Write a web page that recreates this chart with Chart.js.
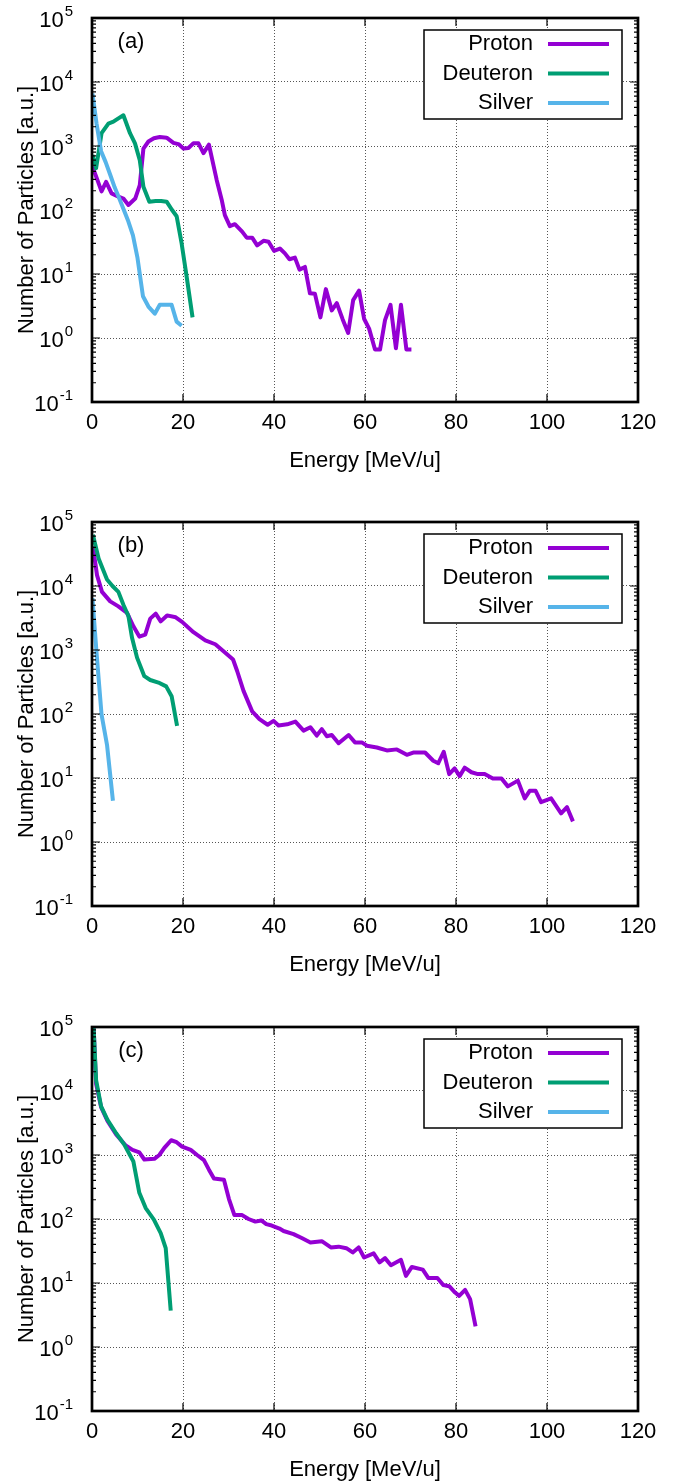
<!DOCTYPE html>
<html>
<head>
<meta charset="utf-8">
<script src="https://cdn.jsdelivr.net/npm/chart.js@4.4.1/dist/chart.umd.min.js"></script>
<style>
  html, body { margin: 0; padding: 0; background: #fff; }
  body { width: 677px; height: 1483px; overflow: hidden; position: relative; }
  canvas { position: absolute; left: 0; }
</style>
</head>
<body>
<canvas id="panelA" width="677" height="494" style="top:0px"></canvas>
<canvas id="panelB" width="677" height="494" style="top:504px"></canvas>
<canvas id="panelC" width="677" height="494" style="top:1009px"></canvas>
<script>
const FONT = '"Liberation Sans", Arial, Helvetica, sans-serif';

const names = ['Proton', 'Deuteron', 'Silver'];
const colors = ['#9400d3', '#009e73', '#56b4e9'];
const xTicks = [0, 20, 40, 60, 80, 100, 120];
const yTicks = [0.1, 1, 10, 100, 1000, 10000, 100000];
const yExponents = [-1, 0, 1, 2, 3, 4, 5];

// (a)
const protonA_E = [0.1, 2.1, 3.1, 4.3, 5.8, 6.9, 8.0, 9.5, 10.5, 11.3, 12.4, 13.6, 14.9, 16.4, 17.9, 19.0, 20.1, 21.2, 22.3, 23.4, 24.5, 25.7, 27.4, 28.5, 29.2, 30.3, 31.4, 33.0, 34.0, 35.2, 36.3, 37.7, 38.8, 40.0, 41.3, 42.4, 43.4, 44.6, 45.6, 46.8, 47.9, 49.0, 50.2, 51.4, 52.7, 53.8, 55.1, 56.3, 57.4, 58.7, 59.8, 60.9, 62.2, 63.3, 64.4, 65.6, 66.8, 67.9, 69.1, 70.2];
const protonA_N = [480, 195, 275, 182, 162, 151, 120, 151, 245, 912, 1175, 1320, 1380, 1350, 1120, 1070, 912, 933, 1100, 1100, 776, 1050, 295, 145, 83, 56, 60, 46, 37, 37, 28, 33, 32, 23, 25, 21, 17, 18, 11.7, 12.9, 5.0, 4.9, 2.1, 5.8, 2.7, 3.5, 1.95, 1.2, 3.9, 5.5, 2.0, 1.4, 0.66, 0.66, 1.9, 3.3, 0.69, 3.3, 0.66, 0.66];
const deuteronA_E = [0.1, 0.9, 2.1, 3.6, 4.7, 5.8, 6.9, 8.35, 9.45, 10.5, 11.3, 12.6, 14.0, 15.2, 16.4, 17.6, 18.6, 19.7, 20.8, 22.1];
const deuteronA_N = [725, 450, 1585, 2240, 2400, 2700, 3020, 1585, 1100, 600, 230, 135, 138, 138, 135, 100, 80, 30, 9.1, 2.1];
const silverA_E = [0.1, 1.0, 2.0, 3.0, 4.0, 5.0, 6.0, 7.0, 8.0, 9.0, 10.0, 11.2, 12.4, 13.8, 14.9, 16.2, 17.5, 18.6, 19.7];
const silverA_N = [6600, 2240, 830, 560, 355, 224, 151, 100, 66, 40, 17.8, 4.5, 3.1, 2.4, 3.3, 3.3, 3.3, 1.8, 1.55];

// (b)
const protonB_E = [0.2, 1.1, 2.2, 4.0, 5.8, 7.7, 9.1, 10.4, 11.7, 12.8, 14.0, 15.1, 16.5, 18.4, 19.8, 22.3, 24.9, 27.1, 29.1, 31.0, 31.9, 33.3, 35.2, 36.8, 38.6, 39.9, 41.0, 42.9, 44.7, 46.5, 48.0, 49.4, 50.5, 51.6, 52.7, 54.2, 56.4, 57.8, 59.3, 60.4, 62.6, 64.8, 67.0, 69.2, 70.6, 73.2, 75.0, 76.1, 77.3, 78.5, 79.7, 80.8, 81.9, 83.4, 84.8, 86.3, 88.1, 90.0, 91.4, 93.6, 95.1, 96.2, 97.5, 98.7, 100.9, 103.1, 104.4, 105.7];
const protonB_N = [41700, 14800, 8100, 5750, 4800, 3800, 2340, 1620, 1740, 3090, 3700, 2800, 3470, 3240, 2750, 1900, 1410, 1230, 930, 710, 470, 230, 110, 83, 68, 78, 66, 69, 76, 55, 62, 46, 58, 45, 47, 35, 47, 36, 36, 32, 30, 27, 28, 23, 25, 25, 18.6, 17, 25.7, 11.5, 14.1, 10.7, 14.5, 12.3, 11.5, 11.5, 9.8, 9.8, 7.4, 9.1, 4.8, 6.3, 6.3, 4.2, 4.8, 2.8, 3.5, 2.1];
const deuteronB_E = [0.2, 1.45, 3.3, 4.5, 5.8, 6.9, 8.0, 8.8, 9.9, 11.5, 12.8, 14.6, 16.3, 17.5, 18.7];
const deuteronB_N = [63000, 27000, 12600, 10000, 8100, 5100, 3400, 1550, 760, 390, 340, 310, 270, 190, 65];
const silverB_E = [0.1, 1.0, 2.1, 3.3, 4.6];
const silverB_N = [6460, 900, 98, 33, 4.4];

// (c)
const protonC_E = [0.3, 0.9, 2.0, 3.4, 5.3, 7.4, 8.9, 10.4, 11.5, 13.7, 14.8, 15.9, 17.4, 18.6, 19.8, 21.7, 23.1, 24.6, 25.7, 26.8, 29.0, 30.1, 31.3, 33.0, 34.4, 35.9, 37.2, 38.3, 39.5, 41.2, 42.1, 44.3, 46.2, 48.0, 50.5, 52.5, 54.2, 55.9, 57.3, 58.6, 59.8, 61.9, 63.2, 64.4, 65.7, 67.9, 69.0, 70.3, 72.7, 73.9, 75.9, 77.2, 78.5, 79.8, 80.7, 82.0, 83.1, 84.3];
const protonC_N = [120000, 13000, 5600, 3400, 2100, 1410, 1200, 1100, 850, 870, 1000, 1290, 1700, 1585, 1350, 1200, 1000, 830, 590, 430, 410, 205, 115, 115, 100, 91, 95, 83, 79, 71, 65, 58, 50, 43, 45, 36, 37, 35, 30, 36, 25, 29, 21, 24.5, 19, 23, 12.9, 17.8, 16.2, 12, 12, 9.3, 8.9, 7.1, 6.3, 7.8, 5.6, 2.1];
const deuteronC_E = [0.3, 0.9, 2.0, 3.4, 5.3, 7.1, 9.1, 10.4, 11.8, 13.6, 15.1, 16.2, 17.3];
const deuteronC_N = [120000, 14800, 5750, 3550, 2190, 1450, 790, 257, 148, 98, 60, 35, 3.7];
const silverC_E = [];
const silverC_N = [];

// gnuplot-like frame, inward ticks, 10^n labels, tag and key
const gnuFrame = {
  id: 'gnuFrame',
  afterDatasetsDraw(chart, args, opts) {
    const { ctx, chartArea: a } = chart;
    const x = chart.scales.x, y = chart.scales.y;
    ctx.save();
    ctx.strokeStyle = '#000';
    ctx.lineWidth = 1.2;
    ctx.beginPath();
    xTicks.forEach(v => {
      const px = x.getPixelForValue(v);
      ctx.moveTo(px, a.bottom); ctx.lineTo(px, a.bottom - 8);
      ctx.moveTo(px, a.top); ctx.lineTo(px, a.top + 8);
    });
    yTicks.forEach((v, i) => {
      const py = y.getPixelForValue(v);
      ctx.moveTo(a.left, py); ctx.lineTo(a.left + 8, py);
      ctx.moveTo(a.right, py); ctx.lineTo(a.right - 8, py);
      if (i < yTicks.length - 1) {
        for (let m = 2; m <= 9; m++) {
          const q = y.getPixelForValue(v * m);
          ctx.moveTo(a.left, q); ctx.lineTo(a.left + 4, q);
          ctx.moveTo(a.right, q); ctx.lineTo(a.right - 4, q);
        }
      }
    });
    ctx.stroke();
    ctx.lineWidth = 2.7;
    ctx.strokeRect(a.left, a.top, a.right - a.left, a.bottom - a.top);

    // y tick labels
    ctx.fillStyle = '#000';
    ctx.textBaseline = 'middle';
    ctx.textAlign = 'right';
    yTicks.forEach((v, i) => {
      const py = y.getPixelForValue(v);
      const exp = String(yExponents[i]);
      const right = a.left - 19;
      ctx.font = '15px ' + FONT;
      ctx.fillText(exp, right, py - 6);
      const w = ctx.measureText(exp).width;
      ctx.font = '22px ' + FONT;
      ctx.fillText('10', right - w - 1, py + 3);
    });

    // panel tag
    ctx.font = '22px ' + FONT;
    ctx.textAlign = 'center';
    ctx.fillText(opts.tag, a.left + 39, a.top + 24);

    // key
    const bx = a.right - 214, by = a.top + 12;
    ctx.fillStyle = '#fff';
    ctx.fillRect(bx, by, 198, 89);
    ctx.lineWidth = 1.5;
    ctx.strokeStyle = '#000';
    ctx.strokeRect(bx, by, 198, 89);
    ctx.textAlign = 'right';
    chart.data.datasets.forEach((ds, i) => {
      const ry = a.top + 26 + i * 29.5;
      ctx.fillStyle = '#000';
      ctx.fillText(ds.label, a.right - 105, ry);
      ctx.strokeStyle = ds.borderColor;
      ctx.lineWidth = 4;
      ctx.beginPath();
      ctx.moveTo(a.right - 90, ry);
      ctx.lineTo(a.right - 29, ry);
      ctx.stroke();
    });
    ctx.restore();
  }
};

function series(E, N, i) {
  return {
    label: names[i],
    data: E.map((e, k) => ({ x: e, y: N[k] })),
    borderColor: colors[i],
    backgroundColor: colors[i],
    borderWidth: 4,
    borderJoinStyle: 'round',
    pointRadius: 0,
    tension: 0,
    fill: false,
    order: 2 - i
  };
}

const gridOpts = { color: '#555', lineWidth: 1, drawTicks: false };
const borderOpts = { display: false, dash: [1, 2] };

function makePanel(id, tag, sets) {
  new Chart(document.getElementById(id), {
    type: 'line',
    data: { datasets: sets.map((s, i) => series(s[0], s[1], i)) },
    options: {
      responsive: false,
      animation: false,
      devicePixelRatio: 1,
      events: [],
      layout: { padding: { top: 18, right: 39, bottom: 0, left: 0 } },
      scales: {
        x: {
          type: 'linear', min: 0, max: 120,
          afterBuildTicks: s => { s.ticks = xTicks.map(v => ({ value: v })); },
          afterFit: s => { s.height = 92; },
          ticks: { color: '#000', font: { size: 22, family: FONT }, padding: 8, maxRotation: 0, autoSkip: false },
          grid: gridOpts,
          border: borderOpts,
          title: { display: true, text: 'Energy [MeV/u]', color: '#000', font: { size: 22, family: FONT }, padding: { top: 0, bottom: 20 } }
        },
        y: {
          type: 'logarithmic', min: 0.1, max: 100000,
          afterBuildTicks: s => { s.ticks = yTicks.map(v => ({ value: v })); },
          afterFit: s => { s.width = 92; },
          ticks: { display: false },
          grid: gridOpts,
          border: borderOpts,
          title: { display: true, text: 'Number of Particles [a.u.]', color: '#000', font: { size: 22, family: FONT }, padding: { top: 14, bottom: 0 } }
        }
      },
      plugins: {
        legend: { display: false },
        tooltip: { enabled: false },
        gnuFrame: { tag: tag }
      }
    },
    plugins: [gnuFrame]
  });
}

makePanel('panelA', '(a)', [[protonA_E, protonA_N], [deuteronA_E, deuteronA_N], [silverA_E, silverA_N]]);
makePanel('panelB', '(b)', [[protonB_E, protonB_N], [deuteronB_E, deuteronB_N], [silverB_E, silverB_N]]);
makePanel('panelC', '(c)', [[protonC_E, protonC_N], [deuteronC_E, deuteronC_N], [silverC_E, silverC_N]]);
</script>
</body>
</html>
